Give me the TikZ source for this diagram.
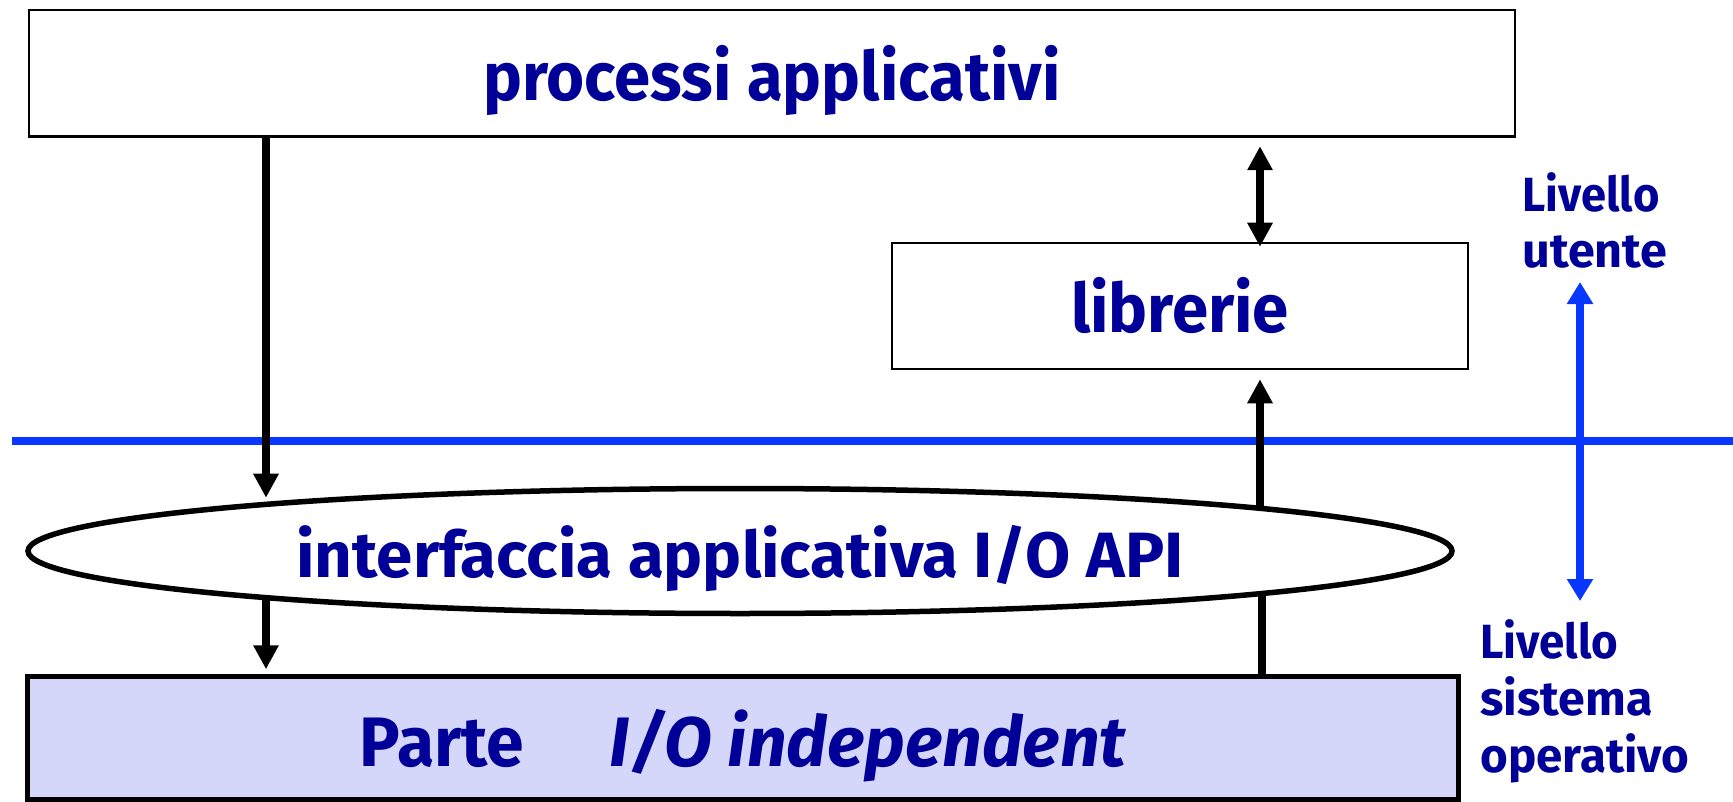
\documentclass[tikz,border=0pt]{standalone}
\usepackage{fontspec}
\setmainfont{Fira Sans}
\usetikzlibrary{arrows.meta,shapes.geometric}
\definecolor{txtblue}{RGB}{0,0,153}
\definecolor{lineblue}{RGB}{8,56,255}
\definecolor{lav}{RGB}{213,215,250}
\newcommand\fitw[2]{\resizebox{#1}{\height}{#2}}
\tikzset{
  lbl/.style={text=txtblue, inner sep=0pt, font=\bfseries\fontsize{34pt}{40pt}\selectfont, text depth=0pt},
  boxnode/.style={lbl, draw, line width=1.25pt},
  arr/.style={line width=3.75pt, -{Triangle[length=12pt,width=12pt]}},
  darr/.style={line width=3.75pt, {Triangle[length=12pt,width=12pt]}-{Triangle[length=12pt,width=12pt]}},
  plainline/.style={line width=3.75pt},
  bline/.style={draw=lineblue, line width=4.25pt},
  barr/.style={draw=lineblue, fill=lineblue, line width=4.25pt, {Triangle[length=11pt,width=12.5pt]}-{Triangle[length=11pt,width=12.5pt]}},
  side/.style={text=txtblue, inner sep=0pt, align=left, font=\bfseries\fontsize{24pt}{28pt}\selectfont}
}
\begin{document}
\begin{tikzpicture}[x=0.5pt,y=-0.5pt]
\useasboundingbox (0,0) rectangle (1733,802);
% boxes
\node[boxnode, minimum width=743pt, minimum height=63.25pt, text height=27pt] (P) at (772,73.25)
  {\fitw{288.5pt}{processi applicativi}};
\node[boxnode, minimum width=288pt, minimum height=63pt, text height=26pt] (L) at (1180,306)
  {\fitw{109pt}{librerie}};
\node[lbl, draw, ellipse, line width=2.75pt, minimum width=712pt, minimum height=62.5pt, text height=26.5pt,
  font=\bfseries\fontsize{32pt}{38pt}\selectfont] (E) at (740,551)
  {\fitw{443.5pt}{interfaccia applicativa I/O API}};
\node[lbl, draw, fill=lav, line width=2.75pt, minimum width=715.5pt, minimum height=61.5pt, text height=28pt,
  font=\bfseries\fontsize{35pt}{40pt}\selectfont] (B) at (743,738)
  {\fitw{82pt}{Parte}\hspace{43pt}\fitw{258pt}{\itshape I/O independent}};
% helper coordinates
\coordinate (xl) at (266,0);
\coordinate (xa) at (1260,0);
\coordinate (xb) at (1262,0);
\coordinate (bl) at (12,441);
\coordinate (br) at (1733,441);
\coordinate (bu) at (1580,282);
\coordinate (bd) at (1580,601);
% blue level separator
\draw[bline] (bl) -- (br);
\draw[barr] (bu) -- (bd);
% connectors
\draw[arr, shorten >=2pt] (P.south -| xl) -- (E.174 -| xl);
\draw[arr, shorten >=2.25pt] (E.186 -| xl) -- (B.north -| xl);
\draw[darr, shorten <=4.25pt, shorten >=-2.5pt] (P.south -| xa) -- (L.north -| xa);
\draw[arr, shorten >=4.5pt] (E.5 -| xa) -- (L.south -| xa);
\draw[plainline] (E.355 -| xb) -- (B.north -| xb);
% side labels
\node[side, anchor=north west] (U) at (1522,172)
  {\fitw{68.5pt}{Livello}\\\fitw{72.5pt}{utente}};
\node[side, anchor=north west, font=\bfseries\fontsize{24pt}{28.5pt}\selectfont] (S) at (1480,619)
  {\fitw{69pt}{Livello}\\\fitw{86pt}{sistema}\\\fitw{104.5pt}{operativo}};
\end{tikzpicture}
\end{document}
